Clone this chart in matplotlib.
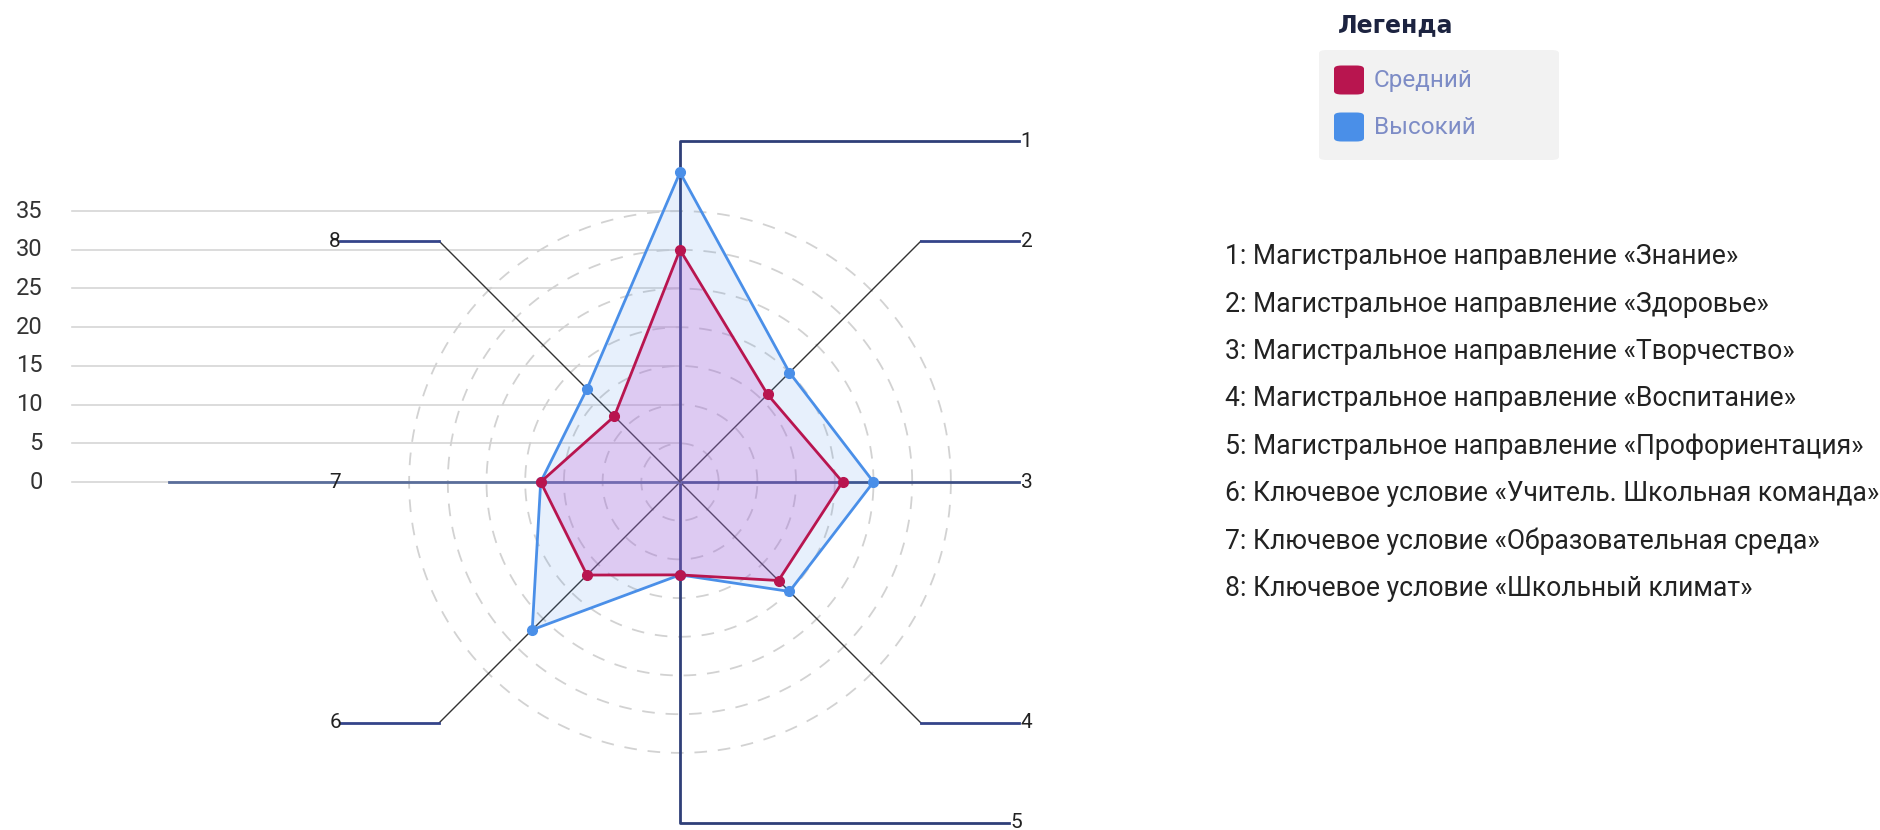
import numpy as np
import matplotlib
matplotlib.use("Agg")
import matplotlib.pyplot as plt
from matplotlib.patches import FancyBboxPatch

plt.rcParams['font.family'] = ['Roboto', 'DejaVu Sans']

# data
axis_labels = ["1", "2", "3", "4", "5", "6", "7", "8"]
medium = [30, 16, 21, 18, 12, 17, 18, 12]
high = [40, 20, 25, 20, 12, 27, 18, 17]
series_names = ["Средний", "Высокий"]
yticks = [0, 5, 10, 15, 20, 25, 30, 35]
descriptions = [
    "1: Магистральное направление «Знание»",
    "2: Магистральное направление «Здоровье»",
    "3: Магистральное направление «Творчество»",
    "4: Магистральное направление «Воспитание»",
    "5: Магистральное направление «Профориентация»",
    "6: Ключевое условие «Учитель. Школьная команда»",
    "7: Ключевое условие «Образовательная среда»",
    "8: Ключевое условие «Школьный климат»",
]

RED = "#b8154f"
BLUE = "#4a8fe8"
NAVY = "#34448a"

W, H = 1881, 830
fig = plt.figure(figsize=(W / 100, H / 100), dpi=100)
ax = fig.add_axes([0, 0, 1, 1])

# center at pixel (680, 482), 7.74 px per unit
cx, cy, s = 680, 482, 7.74
ax.set_xlim((0 - cx) / s, (W - cx) / s)
ax.set_ylim((cy - H) / s, cy / s)
ax.axis("off")

n = len(axis_labels)
ang = np.deg2rad(90 - 45 * np.arange(n))

def polar(r):
    r = np.asarray(r, dtype=float)
    return r * np.cos(ang), r * np.sin(ang)

# left gridlines + tick labels
for t in yticks:
    ax.plot([-78.6, 0], [t, t], color="#d6d6d6", lw=1.2, zorder=1)
    ax.text(-82.3, t, str(t), ha="right", va="center", fontsize=17, color="#333333")

# dashed circles
th = np.linspace(0, 2 * np.pi, 400)
for r in range(5, 40, 5):
    ax.plot(r * np.cos(th), r * np.sin(th), color="#d2d2d2", lw=1.3,
            dashes=(7, 6), zorder=1)

# axis lines with leaders
R = 44
right_end = 43.8
left_end = -43.9
for i in range(n):
    bx, by = R * np.cos(ang[i]), R * np.sin(ang[i])
    end_r = 42.5 if i == 4 else right_end
    if abs(bx) < 1e-6 or abs(by) < 1e-6:
        if i == 2:
            ax.plot([0, right_end], [0, 0], color="#3d4f85", lw=2, zorder=2)
        elif i == 6:
            ax.plot([0, -66], [0, 0], color="#5a6e9a", lw=2, zorder=2)
        else:
            ax.plot([0, 0, end_r], [0, by, by], color="#2f3f78", lw=2, zorder=2)
    else:
        ax.plot([0, bx], [0, by], color="#333333", lw=1, zorder=2)
        end = right_end if bx > 0 else left_end
        ax.plot([bx, end], [by, by], color=NAVY, lw=2, zorder=2)
    ly = by if abs(by) > 1e-6 else 0
    if i in (0, 1, 2, 3, 4):
        ax.text(end_r + 0.2, ly, axis_labels[i], ha="left", va="center",
                fontsize=15, color="#222222", zorder=5)
    else:
        ax.text(left_end + 0.1, ly, axis_labels[i], ha="right", va="center",
                fontsize=15, color="#222222", zorder=5)

# series
hx, hy = polar(high)
mx, my = polar(medium)
ax.fill(hx, hy, color=BLUE, alpha=0.13, lw=0, zorder=3)
ax.fill(mx, my, color="#c35ad8", alpha=0.25, lw=0, zorder=3)
ax.plot(np.append(hx, hx[0]), np.append(hy, hy[0]), color=BLUE, lw=2, zorder=4)
ax.plot(hx, hy, "o", color=BLUE, ms=7, zorder=4)
ax.plot(np.append(mx, mx[0]), np.append(my, my[0]), color=RED, lw=2, zorder=4)
ax.plot(mx, my, "o", color=RED, ms=7, zorder=4)

# legend
def fx(px):
    return px / W

def fy(py):
    return 1 - py / H

fig.text(fx(1338), fy(25), "Легенда", fontsize=17, fontweight="bold",
         family="DejaVu Sans", color="#1c2340", ha="left", va="center")
fig.patches.append(FancyBboxPatch((fx(1319), fy(160)), fx(240), 110 / H,
                                  boxstyle="round,pad=0,rounding_size=0.004",
                                  transform=fig.transFigure, facecolor="#f2f2f2",
                                  edgecolor="none"))
for k, (name, col) in enumerate(zip(series_names, [RED, BLUE])):
    yc = 80 + 47 * k
    fig.patches.append(FancyBboxPatch((fx(1334), fy(yc + 14.5)), 30 / W, 29 / H,
                                      boxstyle="round,pad=0,rounding_size=0.004",
                                      transform=fig.transFigure, facecolor=col,
                                      edgecolor="none"))
    fig.text(fx(1374), fy(yc), name, fontsize=17.5, color="#7d8cc6",
             ha="left", va="center")

# descriptions
for k, d in enumerate(descriptions):
    fig.text(fx(1225), fy(257 + 47.3 * k), d, fontsize=19.1, color="#222222",
             ha="left", va="center")

fig.savefig("out.png", dpi=100)
